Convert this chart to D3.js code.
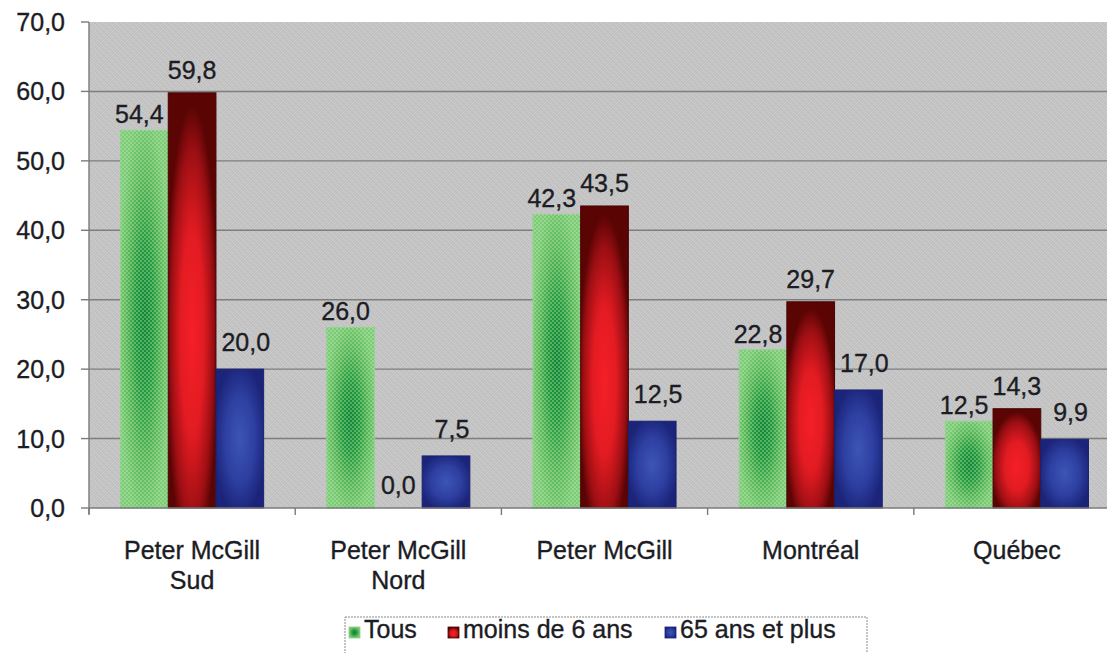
<!DOCTYPE html>
<html>
<head>
<meta charset="utf-8">
<script src="https://cdn.jsdelivr.net/npm/d3@7"></script>
<style>
  html, body { margin: 0; padding: 0; background: #ffffff; }
  svg { display: block; }
  text { font-family: "Liberation Sans", Arial, sans-serif; fill: #1c1c24; stroke: #1c1c24; stroke-width: 0.35; }
</style>
</head>
<body>
<svg id="chart" width="1107" height="653"></svg>
<script>
// Categories and series values
const categories = [["Peter McGill", "Sud"], ["Peter McGill", "Nord"], ["Peter McGill"], ["Montréal"], ["Québec"]];
const seriesNames = ["Tous", "moins de 6 ans", "65 ans et plus"];
const tous = [54.4, 26.0, 42.3, 22.8, 12.5];
const moins6 = [59.8, 0.0, 43.5, 29.7, 14.3];
const ans65 = [20.0, 7.5, 12.5, 17.0, 9.9];
const yTicks = [0, 10, 20, 30, 40, 50, 60, 70];

const seriesValues = [tous, moins6, ans65];

// Layout
const plot = { left: 89, top: 22, right: 1120, bottom: 508 };
const W = 1107;

const svg = d3.select("#chart");
const defs = svg.append("defs");

// Plot background: grey woven texture
const bg = defs.append("pattern").attr("id", "bgPat")
  .attr("patternUnits", "userSpaceOnUse").attr("width", 6).attr("height", 6);
bg.append("rect").attr("width", 6).attr("height", 6).attr("fill", "#c2c2c2");
bg.append("path").attr("d", "M0,3 L3,0 M3,6 L6,3 M0,6 L6,0")
  .attr("stroke", "#cfcfcf").attr("stroke-width", 0.8).attr("fill", "none");
bg.append("path").attr("d", "M0,0 L6,6")
  .attr("stroke", "#b9b9b9").attr("stroke-width", 0.5).attr("fill", "none");

// Bar gradients
function radial(id, stops, cy) {
  const g = defs.append("radialGradient").attr("id", id)
    .attr("cx", 0.5).attr("cy", cy).attr("r", 0.55).attr("fx", 0.5).attr("fy", cy);
  stops.forEach(s => g.append("stop").attr("offset", s[0]).attr("stop-color", s[1]));
}
radial("gGreen", [[0, "#0c8434"], [0.35, "#22983f"], [0.7, "#5bb85b"], [1, "#7ccb78"]], 0.5);
radial("gRed", [[0, "#f51f27"], [0.45, "#e21b22"], [0.8, "#9c0f13"], [1, "#5a0404"]], 0.58);
radial("gBlue", [[0, "#3d55b6"], [0.55, "#2e40a2"], [1, "#1b2479"]], 0.5);

// Fine checker for the green fill
const chk = defs.append("pattern").attr("id", "chk")
  .attr("patternUnits", "userSpaceOnUse").attr("width", 4).attr("height", 4);
chk.append("rect").attr("x", 0).attr("y", 0).attr("width", 2).attr("height", 2).attr("fill", "#c8f0b8").attr("opacity", 0.35);
chk.append("rect").attr("x", 2).attr("y", 2).attr("width", 2).attr("height", 2).attr("fill", "#c8f0b8").attr("opacity", 0.35);

const seriesStyle = [
  { fill: "url(#gGreen)", stroke: "#8fd08c", texture: true, labelDx: -5, labelGap: 7 },
  { fill: "url(#gRed)", stroke: "#4a0303", texture: false, labelDx: 0, labelGap: 14 },
  { fill: "url(#gBlue)", stroke: "#1a2170", texture: false, labelDx: 6, labelGap: 18 }
];

// Scales
const x0 = d3.scaleBand().domain(d3.range(categories.length)).range([plot.left, plot.right]).padding(0);
const bw = x0.bandwidth();
const x1 = d3.scaleBand().domain(d3.range(seriesNames.length))
  .range([bw * 0.153, bw * 0.847]).padding(0);
const y = d3.scaleLinear().domain([0, 70]).range([plot.bottom, plot.top]);

// Clip to visible width
defs.append("clipPath").attr("id", "clipPlot").append("rect")
  .attr("x", plot.left).attr("y", plot.top - 1).attr("width", W - plot.left).attr("height", plot.bottom - plot.top + 2);

const gPlot = svg.append("g").attr("clip-path", "url(#clipPlot)");
gPlot.append("rect").attr("x", plot.left).attr("y", plot.top)
  .attr("width", plot.right - plot.left).attr("height", plot.bottom - plot.top)
  .attr("fill", "url(#bgPat)");

// Gridlines (inner values only; the top of the plot has no rule)
gPlot.append("g").selectAll("line").data(yTicks.filter(t => t > 0 && t < 70)).join("line")
  .attr("x1", plot.left).attr("x2", plot.right)
  .attr("y1", d => y(d)).attr("y2", d => y(d))
  .attr("stroke", "#7e7e7e").attr("stroke-width", 1.4);

// Bars
const fmt = v => d3.format(".1f")(v).replace(".", ",");
seriesValues.forEach((vals, si) => {
  const st = seriesStyle[si];
  const g = gPlot.append("g");
  vals.forEach((v, ci) => {
    if (v <= 0) return;
    const bx = x0(ci) + x1(si), by = y(v), bh = y(0) - y(v), bwid = x1.bandwidth();
    g.append("rect").attr("x", bx).attr("y", by).attr("width", bwid).attr("height", bh)
      .attr("fill", st.fill).attr("stroke", st.stroke).attr("stroke-width", 1);
    if (st.texture) {
      g.append("rect").attr("x", bx).attr("y", by).attr("width", bwid).attr("height", bh)
        .attr("fill", "url(#chk)");
    }
  });
});

// Axes lines and ticks
const axis = svg.append("g").attr("stroke", "#7a7a7a").attr("stroke-width", 1.4);
axis.append("line").attr("x1", plot.left).attr("x2", W).attr("y1", plot.bottom).attr("y2", plot.bottom);
axis.append("line").attr("x1", plot.left).attr("x2", plot.left).attr("y1", plot.top).attr("y2", plot.bottom + 6);
axis.selectAll(".yt").data(yTicks).join("line")
  .attr("x1", plot.left - 8).attr("x2", plot.left).attr("y1", d => y(d)).attr("y2", d => y(d));
axis.selectAll(".xt").data(d3.range(categories.length + 1)).join("line")
  .attr("x1", d => plot.left + d * bw).attr("x2", d => plot.left + d * bw)
  .attr("y1", plot.bottom).attr("y2", plot.bottom + 7);

// Y tick labels
svg.append("g").selectAll("text").data(yTicks).join("text")
  .attr("x", 65).attr("y", d => y(d)).attr("dy", "0.36em")
  .attr("text-anchor", "end").attr("font-size", 25).text(d => fmt(d));

// Category labels
const catG = svg.append("g").selectAll("text").data(categories).join("text")
  .attr("text-anchor", "middle").attr("font-size", 25)
  .attr("transform", (d, i) => `translate(${x0(i) + bw / 2},559)`);
catG.selectAll("tspan").data(d => d).join("tspan")
  .attr("x", 0).attr("y", (d, i) => i * 30).text(d => d);

// Value labels
seriesValues.forEach((vals, si) => {
  const st = seriesStyle[si];
  svg.append("g").selectAll("text").data(vals).join("text")
    .attr("x", (v, ci) => x0(ci) + x1(si) + x1.bandwidth() / 2 + st.labelDx)
    .attr("y", v => y(v) - st.labelGap)
    .attr("text-anchor", "middle").attr("font-size", 25).text(v => fmt(v));
});

// Legend
const legend = svg.append("g");
legend.append("rect").attr("x", 345).attr("y", 617).attr("width", 522).attr("height", 50)
  .attr("fill", "#ffffff").attr("stroke", "#8a8a8a").attr("stroke-width", 1)
  .attr("stroke-dasharray", "2,1");
const legendX = [349, 448, 665];
seriesNames.forEach((name, si) => {
  const st = seriesStyle[si];
  legend.append("rect").attr("x", legendX[si]).attr("y", 627).attr("width", 11).attr("height", 11)
    .attr("fill", st.fill).attr("stroke", st.stroke).attr("stroke-width", 0.8);
  legend.append("text").attr("x", legendX[si] + 15).attr("y", 638)
    .attr("font-size", 25).text(name);
});
</script>
</body>
</html>
